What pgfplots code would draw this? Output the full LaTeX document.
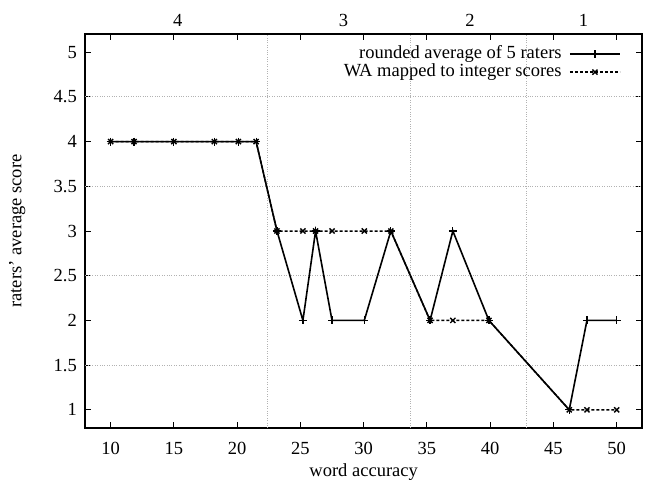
\documentclass[border=0pt]{standalone}
\usepackage{pgfplots}
\pgfplotsset{compat=1.18}
\usepackage{fontspec}
\setmainfont{Liberation Serif}

\pgfplotstableread{
x     avg  wa
10    4    4
11.85 4    4
15    4    4
18.2  4    4
20.1  4    4
21.5  4    4
23.15 3    3
25.2  2    3
26.2  3    3
27.5  2    3
30.05 2    3
32.15 3    3
35.25 2    2
37.05 3    2
39.9  2    2
46.25 1    1
47.65 2    1
50    2    1
}\datatable

\begin{document}
\begin{tikzpicture}[font=\fontsize{18.5bp}{22bp}\selectfont]
\path[use as bounding box] (-85.3bp,-55.3bp) rectangle (559.7bp,427.7bp);
\begin{axis}[
  at={(0,0)}, anchor=south west,
  scale only axis, width=556.7bp, height=393.4bp,
  xmin=8, xmax=52, ymin=0.8, ymax=5.2,
  xtick={10,15,...,50}, ytick={1,1.5,...,5},
  xticklabels={10,15,20,25,30,35,40,45,50},
  yticklabels={1,1.5,2,2.5,3,3.5,4,4.5,5},
  tick align=inside, major tick length=5.5bp,
  tick style={black, line width=1bp},
  axis line style={line width=2bp},
  /pgf/number format/assume math mode=true,
  xticklabel style={yshift=-11bp},
  yticklabel style={xshift=-5bp},
  every axis x label/.style={at={(axis description cs:0.5,-0.112)}, anchor=center},
  every axis y label/.style={at={(axis description cs:-0.1222,0.5)}, rotate=90, anchor=center},
  xlabel={word accuracy}, ylabel={raters' average score},
  extra x ticks={22.4,33.7,42.9}, extra x tick labels={},
  extra y ticks={1.5,2.5,3.5,4.5}, extra y tick labels={},
  extra tick style={grid=major, major tick length=0pt},
  grid style={gray!60, dotted, line width=0.9bp},
  legend style={draw=none, fill=none, at={(rel axis cs:0.9675,0.978)}, anchor=north east,
    nodes={inner sep=0.5bp, text height=13bp, text depth=4bp}, /tikz/column sep=7bp},
  legend cell align=right, legend plot pos=right,
  legend image code/.code={\draw[mark repeat=2,mark phase=2,#1] plot coordinates {(0bp,0bp) (25bp,0bp) (50bp,0bp)};},
]
\addplot[black, line width=1.6bp, mark=+, mark size=4bp, mark options={solid, line width=1.2bp}] table[x=x, y=avg] {\datatable};
\addlegendentry{rounded average of 5 raters}
\addplot[black, line width=1.5bp, dash pattern=on 3bp off 2bp, mark=x, mark size=3.6bp, mark options={solid, line width=1.4bp}] table[x=x, y=wa] {\datatable};
\addlegendentry{WA mapped to integer scores}
\end{axis}
\begin{axis}[
  at={(0,0)}, anchor=south west,
  scale only axis, width=556.7bp, height=393.4bp,
  xmin=8, xmax=52, ymin=0.8, ymax=5.2,
  axis x line*=top, axis y line=none, axis line style={draw=none},
  xtick={15.3,28.4,38.4,47.37}, xticklabels={4,3,2,1},
  major tick length=0pt,
  /pgf/number format/assume math mode=true,
  xticklabel style={yshift=4bp},
]
\end{axis}
\end{tikzpicture}
\end{document}
